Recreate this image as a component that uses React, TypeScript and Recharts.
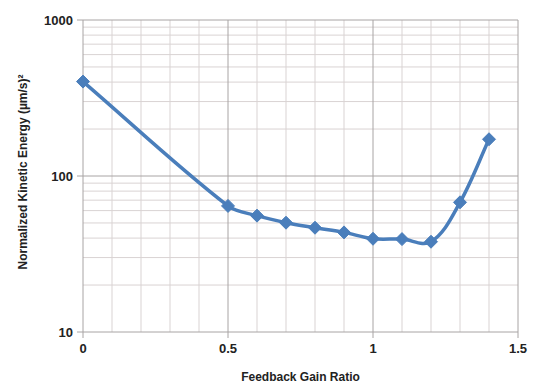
import {
  LineChart,
  Line,
  XAxis,
  YAxis,
  ReferenceLine,
} from "recharts";

// feedback gain ratio vs normalized kinetic energy
const gainRatio = [0, 0.5, 0.6, 0.7, 0.8, 0.9, 1.0, 1.1, 1.2, 1.3, 1.4];
const kineticEnergy = [403, 64.3, 55.7, 50.2, 46.6, 43.5, 39.6, 39.4, 37.9, 67.8, 172];

const xTicks = [0, 0.5, 1, 1.5];
const yTicks = [10, 100, 1000];

// grid values
const xMinorGrid = [0.1, 0.2, 0.3, 0.4, 0.6, 0.7, 0.8, 0.9, 1.1, 1.2, 1.3, 1.4];
const xMajorGrid = [0.5, 1, 1.5];
const yMinorGrid = [20, 30, 40, 50, 60, 70, 80, 90, 200, 300, 400, 500, 600, 700, 800, 900];
const yMajorGrid = [100, 1000];

const chartData = gainRatio.map((g, i) => ({ gain: g, energy: kineticEnergy[i] }));

const BLUE = "#4a7ebb";
const tickStyle = { fontSize: 13, fontWeight: 700, fill: "#222", fontFamily: "Liberation Sans, Arial, sans-serif" };
const titleStyle = { fontSize: 12, fontWeight: 700, fill: "#222", fontFamily: "Liberation Sans, Arial, sans-serif" };

// spreadsheet-style smoothed line: tangent along neighbours, handle length
// scaled to each segment so long straight runs stay straight
function smoothCurve(context: any) {
  let pts: [number, number][] = [];
  const k = 1 / 3;
  const tangent = (i: number): [number, number] => {
    const a = pts[i - 1] || pts[i];
    const b = pts[i + 1] || pts[i];
    const dx = b[0] - a[0];
    const dy = b[1] - a[1];
    const len = Math.hypot(dx, dy) || 1;
    return [dx / len, dy / len];
  };
  return {
    areaStart() {},
    areaEnd() {},
    lineStart() {
      pts = [];
    },
    lineEnd() {
      if (!pts.length) return;
      context.moveTo(pts[0][0], pts[0][1]);
      for (let i = 0; i < pts.length - 1; i++) {
        const p1 = pts[i];
        const p2 = pts[i + 1];
        const seg = Math.hypot(p2[0] - p1[0], p2[1] - p1[1]);
        const t1 = tangent(i);
        const t2 = tangent(i + 1);
        context.bezierCurveTo(
          p1[0] + t1[0] * seg * k,
          p1[1] + t1[1] * seg * k,
          p2[0] - t2[0] * seg * k,
          p2[1] - t2[1] * seg * k,
          p2[0],
          p2[1]
        );
      }
    },
    point(x: number, y: number) {
      pts.push([+x, +y]);
    },
  };
}

function Diamond(props: any) {
  const { cx, cy, index } = props;
  if (cx == null || cy == null) return null;
  const r = 6.5;
  return (
    <polygon
      key={`d-${index}`}
      points={`${cx},${cy - r} ${cx + r},${cy} ${cx},${cy + r} ${cx - r},${cy}`}
      fill={BLUE}
      stroke={BLUE}
      strokeWidth={1}
    />
  );
}

export default function App() {
  return (
    <div style={{ position: "absolute", left: 0, top: 0, width: 542, height: 389, background: "#fff" }}>
      <LineChart
        width={542}
        height={389}
        data={chartData}
        margin={{ top: 20, right: 24, left: 0, bottom: 0 }}
      >
        {xMinorGrid.map((v) => (
          <ReferenceLine key={`xm-${v}`} x={v} stroke="#d9d3d3" strokeWidth={1} zIndex={-100} />
        ))}
        {yMinorGrid.map((v) => (
          <ReferenceLine key={`ym-${v}`} y={v} stroke="#d9d3d3" strokeWidth={1} zIndex={-100} />
        ))}
        {xMajorGrid.map((v) => (
          <ReferenceLine key={`xM-${v}`} x={v} stroke="#a8a4a4" strokeWidth={1} zIndex={-100} />
        ))}
        {yMajorGrid.map((v) => (
          <ReferenceLine key={`yM-${v}`} y={v} stroke="#a8a4a4" strokeWidth={1} zIndex={-100} />
        ))}
        <XAxis
          dataKey="gain"
          type="number"
          domain={[0, 1.5]}
          ticks={xTicks}
          height={57}
          tick={tickStyle}
          tickSize={6}
          tickMargin={6}
          stroke="#a8a4a4"
          label={{
            content: (p: any) => {
              const vb = p.viewBox || {};
              return (
                <text
                  x={vb.x + vb.width / 2}
                  y={vb.y + 45}
                  textAnchor="middle"
                  dominantBaseline="central"
                  style={titleStyle}
                >
                  Feedback Gain Ratio
                </text>
              );
            },
          }}
        />
        <YAxis
          dataKey="energy"
          scale="log"
          domain={[10, 1000]}
          ticks={yTicks}
          allowDataOverflow
          width={83}
          tick={tickStyle}
          tickSize={6}
          tickMargin={4}
          stroke="#a8a4a4"
          label={{
            content: (p: any) => {
              const vb = p.viewBox || {};
              const cx = 23;
              const cy = vb.y + vb.height / 2 - 4;
              return (
                <text
                  x={cx}
                  y={cy}
                  textAnchor="middle"
                  dominantBaseline="central"
                  transform={`rotate(-90, ${cx}, ${cy})`}
                  style={titleStyle}
                >
                  Normalized Kinetic Energy (µm/s)²
                </text>
              );
            },
          }}
        />
        <Line
          type={smoothCurve as any}
          dataKey="energy"
          stroke={BLUE}
          strokeWidth={3.5}
          dot={<Diamond />}
          activeDot={false}
          isAnimationActive={false}
        />
      </LineChart>
    </div>
  );
}
